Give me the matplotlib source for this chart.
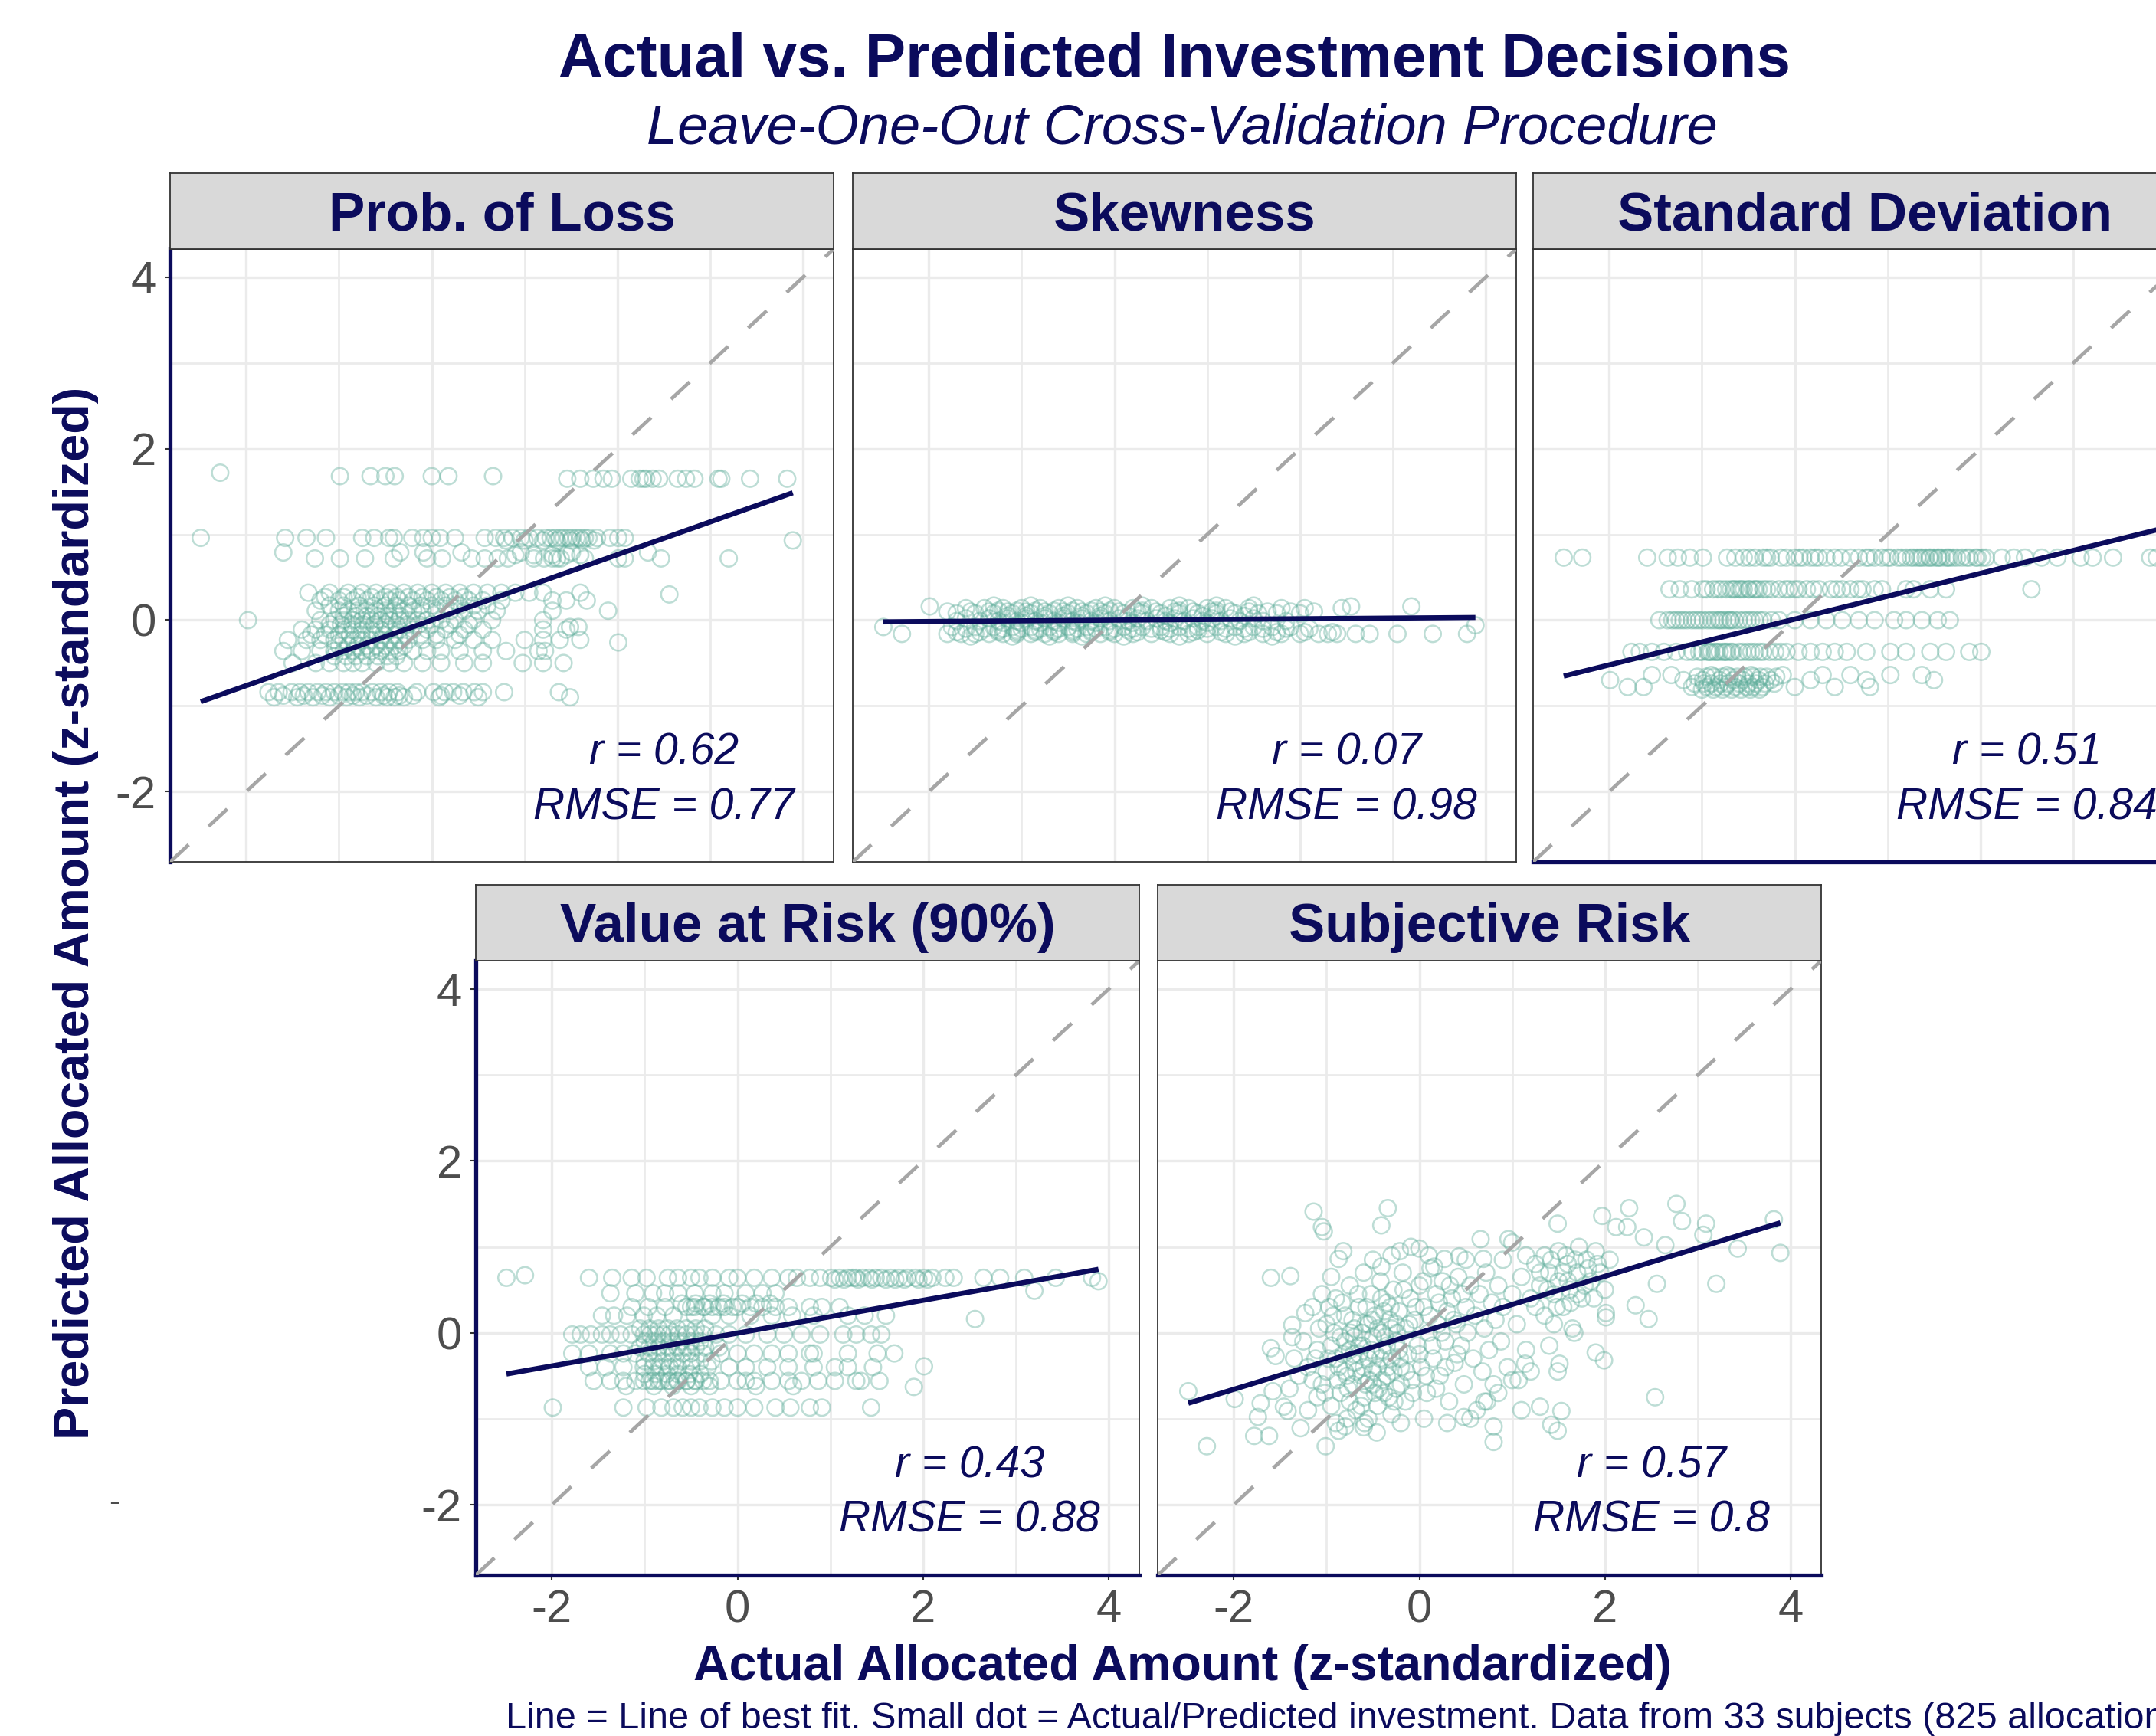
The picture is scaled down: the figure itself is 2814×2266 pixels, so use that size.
import numpy as np
import matplotlib
matplotlib.use("Agg")
import matplotlib.pyplot as plt

plt.rcParams['font.family'] = ['Liberation Sans', 'DejaVu Sans']
plt.rcParams['axes.unicode_minus'] = False

# ─── Data ─────────────────────────────────────────────────────────────────────

panel_titles = ["Prob. of Loss", "Skewness", "Standard Deviation",
                "Value at Risk (90%)", "Subjective Risk"]
r_values = ["0.62", "0.07", "0.51", "0.43", "0.57"]
rmse_values = ["0.77", "0.98", "0.84", "0.88", "0.8"]
fit_slope = [0.382, 0.008, 0.267, 0.191, 0.329]
fit_intercept = [0.0, 0.0, 0.012, -0.004, 0.0]

# banded panels: (predicted value, [actual values])
loss_rows = [
    (1.72, [-2.28]),
    (1.68, [-0.99, -0.66, -0.50, -0.40, 0.00, 0.18, 0.66]),
    (1.65, [1.46, 1.60, 1.74, 1.85, 1.94, 2.15, 2.24, 2.28, 2.31, 2.38, 2.45,
            2.65, 2.74, 2.83, 3.09, 3.12, 3.43, 3.83]),
    (0.96, [-2.49, -1.58, -1.35, -1.14, -0.75, -0.62, -0.46, -0.41, -0.21, -0.09,
            0.00, 0.09, 0.25, 0.57, 0.69, 0.78, 0.87, 0.96, 1.05, 1.14, 1.23, 1.28,
            1.33, 1.38, 1.42, 1.47, 1.51, 1.56, 1.60, 1.65, 1.69, 1.78, 1.92, 2.01, 2.08]),
    (0.93, [0.80, 1.00, 1.20, 1.35, 1.50, 1.62, 1.75, 3.89]),
    (0.79, [-1.60, -0.34, -0.09, 0.32, 0.96, 1.51, 2.33]),
    (0.76, [0.90, 1.10, 1.30, 1.45, 1.60]),
    (0.72, [-1.26, -0.99, -0.72, -0.41, -0.05, 0.11, 0.43, 0.57, 0.71, 0.82, 1.10,
            1.21, 1.30, 1.35, 1.39, 1.65, 2.01, 2.08, 2.47, 3.20]),
    (0.30, [2.56]),
    (0.32, [-1.33, -1.10, -0.90, -0.75, -0.60, -0.45, -0.30, -0.15, 0.00, 0.15, 0.30,
            0.45, 0.60, 0.75, 0.90, 1.05, 1.20, 1.60]),
    (0.27, [-1.15, -0.95, -0.80, -0.65, -0.50, -0.38, -0.25, -0.10, 0.05, 0.20, 0.35]),
    (0.23, [-1.20, -1.00, -0.85, -0.70, -0.55, -0.45, -0.35, -0.20, -0.05, 0.10, 0.25,
            0.40, 0.55, 0.75, 1.30, 1.45, 1.67]),
    (0.17, [-1.10, -0.95, -0.78, -0.62, -0.50, -0.38, -0.25, -0.12, 0.00, 0.15, 0.30,
            0.45, 0.60]),
    (0.11, [-1.25, -1.00, -0.90, -0.80, -0.70, -0.60, -0.50, -0.40, -0.30, -0.20,
            -0.10, 0.05, 0.20, 0.35, 0.50, 0.70, 1.30, 1.90]),
    (0.05, [-0.95, -0.82, -0.70, -0.58, -0.46, -0.34]),
    (0.00, [-1.98, -1.20, -1.05, -0.95, -0.85, -0.75, -0.65, -0.55, -0.45, -0.35,
            -0.25, -0.15, -0.05, 0.10, 0.25, 0.45, 0.65, 1.20]),
    (-0.05, [-1.10, -0.98, -0.86, -0.74, -0.62, -0.50, -0.38, -0.26, -0.14, 0.00,
             0.20, 0.40]),
    (-0.08, [1.49, 1.58]),
    (-0.11, [-1.40, -1.25, -1.10, -0.95, -0.85, -0.75, -0.65, -0.55, -0.45, -0.35,
             -0.20, -0.05, 0.15, 0.35, 0.55, 1.20, 1.45]),
    (-0.17, [-1.30, -1.15, -1.00, -0.88, -0.76, -0.64, -0.52, -0.40, -0.28, -0.12,
             0.05, 0.30]),
    (-0.23, [-1.55, -1.35, -1.20, -1.05, -0.95, -0.85, -0.75, -0.65, -0.55, -0.45,
             -0.35, -0.25, -0.10, 0.05, 0.25, 0.45, 0.65, 1.00, 1.20, 1.38, 1.60]),
    (-0.26, [2.01]),
    (-0.30, [-1.00, -0.90, -0.80, -0.70, -0.60, -0.50, -0.40, -0.30]),
    (-0.36, [-1.60, -1.40, -1.20, -1.05, -0.95, -0.85, -0.75, -0.65, -0.55, -0.45,
             -0.35, -0.20, -0.05, 0.10, 0.30, 0.55, 0.80, 1.15, 1.22]),
    (-0.42, [-1.05, -0.92, -0.82, -0.70, -0.58, -0.48, -0.38]),
    (-0.50, [-1.50, -1.25, -1.10, -0.95, -0.85, -0.75, -0.60, -0.45, -0.30, -0.10,
             0.10, 0.35, 0.55, 0.98, 1.20, 1.42]),
    (-0.84, [-1.76, -1.65, -1.51, -1.42, -1.33, -1.23, -1.14, -1.05, -0.96, -0.89,
             -0.82, -0.75, -0.64, -0.55, -0.46, -0.37, -0.16, 0.02, 0.14, 0.23, 0.34,
             0.46, 0.55, 0.78, 1.37]),
    (-0.88, [-1.60, -1.38, -1.18, -1.00, -0.85, -0.70, -0.52, -0.35, -0.20, 0.10, 0.30]),
    (-0.90, [-1.70, -1.45, -1.28, -1.10, -0.92, -0.78, -0.60, -0.48, -0.40, -0.30,
             0.08, 0.50, 1.49]),
]

skew_rows = [
    (0.17, [-1.30, -0.90, -0.50, -0.10, 0.30, 0.70, 1.10, 1.50]),
    (0.16, [-1.99, 2.55, 3.20]),
    (0.14, [-1.60, -1.40, -1.20, -1.00, -0.80, -0.60, -0.40, -0.20, 0.00, 0.20, 0.40,
            0.60, 0.80, 1.00, 1.20, 1.45, 1.80, 2.05, 2.45]),
    (0.11, [-1.25, -1.05, -0.85, -0.65, -0.45, -0.25, -0.05, 0.30, 0.70, 1.10]),
    (0.10, [-1.80, -1.55, -1.35, -1.15, -0.95, -0.75, -0.55, -0.35, -0.15, 0.05, 0.25,
            0.45, 0.65, 0.85, 1.05, 1.25, 1.45, 1.65, 1.90, 2.15]),
    (0.08, [-1.70, -1.50, -1.30, -1.10, -0.90, -0.70, -0.50, -0.30, -0.10, 0.10, 0.30,
            0.50, 0.70, 0.90, 1.10, 1.30, 1.55, 1.75, 2.00]),
    (0.05, [-1.15, -0.95, -0.75, -0.55, -0.35, -0.15, 0.15, 0.55, 0.95, 1.40]),
    (0.02, [-1.60, -1.35, -1.15, -0.95, -0.75, -0.55, -0.35, -0.15, 0.05, 0.25, 0.45,
            0.65, 0.85, 1.05, 1.25, 1.50]),
    (-0.01, [-1.70, -1.45, -1.25, -1.05, -0.85, -0.65, -0.45, -0.25, -0.05, 0.15,
             0.35, 0.55, 0.75, 0.95, 1.15, 1.35, 1.60, 1.85]),
    (-0.03, [-1.20, -1.00, -0.80, -0.60, -0.40, -0.20, 0.20, 0.60, 1.00]),
    (-0.06, [3.89]),
    (-0.08, [-2.49, -1.75, -1.50, -1.30, -1.10, -0.90, -0.70, -0.50, -0.30, -0.10,
             0.10, 0.30, 0.50, 0.70, 0.90, 1.10, 1.30, 1.50, 1.70, 1.90]),
    (-0.10, [-1.60, -1.40, -1.20, -1.00, -0.80, -0.60, -0.40, -0.20, 0.00, 0.20, 0.40,
             0.60, 0.80, 1.00, 1.20, 1.40, 1.60, 1.85, 2.10]),
    (-0.12, [-1.25, -1.05, -0.85, -0.65, -0.45, -0.25, -0.05, 0.15, 0.50, 0.90]),
    (-0.14, [-1.70, -1.45, -1.25, -1.05, -0.85, -0.65, -0.45, -0.25, -0.05, 0.25, 0.55,
             0.85, 1.15, 1.45, 1.75, 2.05, 2.35]),
    (-0.16, [-2.29, -1.80, -1.65, -1.50, -1.35, -1.20, -1.05, -0.90, -0.75, -0.60,
             -0.45, -0.30, -0.15, 0.00, 0.20, 0.40, 0.60, 0.80, 1.00, 1.20, 1.40, 1.60,
             1.80, 2.00, 2.20, 2.30, 2.40, 2.60, 2.75, 3.05, 3.43, 3.80]),
    (-0.19, [-1.55, -1.10, -0.70, -0.35, 0.10, 0.70, 1.30, 1.70]),
]

sd_rows = [
    (0.73, [-2.49, -2.29, -1.59, -1.37, -1.26, -1.13, -0.99, -0.73, -0.64, -0.49,
            -0.43, -0.34, -0.26, -0.09, 0.00, 0.09, 0.17, 0.26, 0.34, 0.43, 0.60, 0.69,
            0.77, 0.86, 0.94, 1.03, 1.11, 1.20, 1.28, 1.32, 1.37, 1.41, 1.46, 1.50,
            1.54, 1.58, 1.63, 1.67, 1.71, 1.80, 1.88, 1.97, 2.06, 2.23, 2.36, 2.48,
            2.66, 2.83, 3.08, 3.21, 3.43, 3.83, 3.90]),
    (0.73, [1.00, 1.15, 1.25, 1.35, 1.45, 1.55, 1.65, 1.75, 1.85, 1.95, 2.02, -0.55,
            -0.30, -0.15, 0.05, 0.22, 0.50, 0.80]),
    (0.36, [-1.35, -1.24, -1.11, -0.99, -0.88, -0.79, -0.69, -0.64, -0.60, -0.55,
            -0.49, -0.44, -0.39, -0.30, -0.17, -0.06, 0.04, 0.13, 0.26, 0.39, 0.51,
            0.60, 0.73, 0.86, 0.94, 1.20, 1.28, 1.46, 1.63, 2.55]),
    (0.36, [-0.95, -0.83, -0.74, -0.66, -0.58, -0.50, -0.42, -0.34, -0.25, -0.10,
            0.00, 0.20, 0.45, 0.68]),
    (0.00, [-1.46, -1.37, -1.28, -1.20, -1.11, -1.03, -0.94, -0.86, -0.82, -0.77,
            -0.73, -0.69, -0.60, -0.51, -0.43, -0.34, -0.17, 0.00, 0.17, 0.34, 0.51,
            0.69, 0.86, 1.07, 1.20, 1.37, 1.54, 1.67]),
    (0.00, [-1.32, -1.24, -1.16, -1.07, -0.99, -0.90, -0.80, -0.70, -0.65, -0.55,
            -0.47, -0.38, -0.25]),
    (-0.37, [-1.76, -1.67, -1.54, -1.41, -1.28, -1.16, -1.03, -0.94, -0.90, -0.86,
             -0.81, -0.77, -0.73, -0.69, -0.60, -0.51, -0.43, -0.34, -0.21, -0.09,
             0.04, 0.17, 0.30, 0.43, 0.56, 0.77, 1.03, 1.20, 1.46, 1.63, 1.88, 2.01]),
    (-0.37, [-1.10, -1.00, -0.92, -0.84, -0.75, -0.67, -0.56, -0.47, -0.38, -0.27,
             -0.15]),
    (-0.64, [-1.54, -1.33, -0.90, -0.73, -0.47, -0.13, 0.30, 0.60, 1.03, 1.37]),
    (-0.66, [-1.05, -0.95, -0.87, -0.78, -0.70, -0.62, -0.54, -0.45, -0.37, -0.30,
             -0.20]),
    (-0.70, [-1.99, -1.20, -0.99, -0.81, -0.66, -0.56, -0.39, -0.26, 0.17, 0.77, 1.50]),
    (-0.74, [-1.08, -0.98, -0.90, -0.80, -0.72, -0.60, -0.50, -0.42, -0.32, -0.22]),
    (-0.78, [-1.80, -1.63, -1.11, -0.95, -0.85, -0.75, -0.64, -0.52, -0.45, -0.35,
             0.00, 0.43, 0.81]),
    (-0.81, [-1.00, -0.88, -0.78, -0.68, -0.58, -0.48, -0.38]),
]

var_rows = [
    (0.67, [-2.29]),
    (0.64, [-2.49, -1.60, -1.35, -1.14, -0.98, -0.75, -0.64, -0.50, -0.41, -0.27,
            -0.09, 0.00, 0.18, 0.37, 0.55, 0.64, 0.78, 0.89, 1.01, 1.10, 1.19, 1.24,
            1.28, 1.35, 1.42, 1.49, 1.55, 1.65, 1.74, 1.83, 1.92, 2.01, 2.10, 2.24,
            2.33, 2.65, 2.83, 3.09, 3.43, 3.82]),
    (0.62, [1.05, 1.15, 1.30, 1.45, 1.60, 1.70, 1.80, 1.95, 2.05]),
    (0.60, [3.89]),
    (0.49, [3.20]),
    (0.46, [-1.37, -1.10, -0.91, -0.78, -0.64, -0.46, -0.27, -0.14, 0.09, 0.27, 0.41]),
    (0.34, [-0.60, -0.45, -0.30, -0.15, 0.05, 0.20, 0.35]),
    (0.30, [-1.14, -0.96, -0.78, -0.55, -0.50, -0.46, -0.37, -0.35, -0.27, -0.20,
            -0.14, -0.05, 0.00, 0.14, 0.27, 0.41, 0.55, 0.78, 0.91, 1.10]),
    (0.20, [-1.46, -1.33, -1.19, -1.01, -0.87, -0.69, -0.46, -0.27, -0.09, 0.14,
            0.37, 0.59, 0.82, 1.19, 1.37, 1.60]),
    (0.16, [2.56]),
    (0.05, [-1.05, -0.95, -0.85, -0.75, -0.65, -0.55, -0.45, -0.35]),
    (-0.02, [-1.78, -1.69, -1.58, -1.46, -1.37, -1.26, -1.14, -1.01, -0.94, -0.87,
             -0.80, -0.73, -0.64, -0.55, -0.46, -0.37, -0.23, -0.09, 0.09, 0.32, 0.50,
             0.69, 0.89, 1.14, 1.28, 1.44, 1.55]),
    (-0.10, [-1.00, -0.90, -0.80, -0.70, -0.60, -0.50, -0.40]),
    (-0.17, [-1.05, -0.95, -0.85, -0.75, -0.65, -0.55, -0.45, -0.35, -0.20]),
    (-0.24, [-1.78, -1.60, -1.37, -1.23, -1.10, -0.96, -0.87, -0.78, -0.69, -0.59,
             -0.50, -0.37, -0.18, 0.00, 0.18, 0.37, 0.55, 0.78, 0.82, 1.19, 1.51, 1.69]),
    (-0.33, [-1.00, -0.90, -0.80, -0.70, -0.60, -0.50, -0.40, -0.28]),
    (-0.39, [2.01]),
    (-0.40, [-1.60, -1.42, -1.23, -1.01, -0.91, -0.82, -0.73, -0.64, -0.50, -0.32,
             -0.09, 0.09, 0.32, 0.55, 0.82, 1.05, 1.19, 1.46]),
    (-0.48, [-1.00, -0.88, -0.76, -0.64, -0.52, -0.40]),
    (-0.56, [-1.55, -1.37, -1.23, -1.10, -1.01, -0.91, -0.82, -0.73, -0.64, -0.55,
             -0.46, -0.37, -0.18, 0.00, 0.09, 0.18, 0.37, 0.55, 0.69, 0.87, 1.05,
             1.28, 1.33, 1.53]),
    (-0.56, [-0.95, -0.85, -0.75, -0.65, -0.55, -0.45, -0.30]),
    (-0.62, [-1.20, -0.90, -0.70, -0.50, -0.30, 0.20, 0.60]),
    (-0.63, [1.90]),
    (-0.87, [-1.99, -1.23, -0.98, -0.82, -0.69, -0.59, -0.50, -0.41, -0.27, -0.14,
             0.00, 0.18, 0.41, 0.57, 0.78, 0.91, 1.44]),
]

# continuous panel: (actual, predicted)
subj_points = [
    (-2.49, -0.68), (-2.29, -1.32), (-1.99, -0.77), (-1.78, -1.20), (-1.74, -0.98),
    (-1.71, -0.82), (-1.62, -1.20), (-1.60, 0.64), (-1.39, 0.66), (-1.60, -0.18),
    (-1.55, -0.27), (-1.58, -0.68), (-1.46, -0.86), (-1.42, -0.91), (-1.37, 0.09),
    (-1.37, -0.05), (-1.28, -1.11), (-1.23, 0.23), (-1.14, 1.41), (-1.05, 1.23),
    (-1.03, 1.18), (-1.01, -1.32), (-0.87, 0.86), (-0.82, 0.95), (-0.80, -1.09),
    (-0.87, -1.14), (-0.59, -1.05), (-0.46, -1.16), (-0.41, 1.25), (-0.34, 1.45),
    (-0.41, 0.77), (-0.21, 0.95), (-0.09, 1.00), (0.00, 0.98), (0.16, 0.77),
    (0.27, 0.86), (0.43, 0.89), (0.48, -0.98), (0.66, 1.09), (0.69, 0.86),
    (0.80, -1.09), (0.80, -1.27), (0.73, -0.80), (0.96, 1.09), (1.07, -0.55),
    (1.14, -0.36), (1.30, -0.86), (1.42, -1.07), (1.49, -1.14), (1.53, -0.91),
    (1.49, -0.45), (1.51, -0.36), (1.67, 0.00), (1.49, 1.27), (1.90, -0.23),
    (1.99, -0.32), (1.97, 1.36), (2.01, 0.23), (2.01, 0.18), (2.12, 1.23),
    (2.24, 1.23), (2.26, 1.45), (2.33, 0.32), (2.42, 1.11), (2.47, 0.16),
    (2.54, -0.75), (2.56, 0.57), (2.65, 1.02), (2.77, 1.50), (2.83, 1.30),
    (3.09, 1.27), (3.06, 1.14), (3.20, 0.57), (3.43, 0.98), (3.82, 1.32),
    (3.89, 0.93),
    (-1.20, -0.40), (-1.10, -0.20), (-1.05, -0.60), (-1.00, 0.10), (-0.95, -0.85),
    (-0.90, -0.30), (-0.90, 0.40), (-0.85, -0.05), (-0.85, -0.70), (-0.80, 0.20),
    (-0.80, -0.45), (-0.78, -1.00), (-0.75, 0.55), (-0.75, -0.20), (-0.72, -0.60),
    (-0.70, 0.05), (-0.70, -0.35), (-0.68, -0.90), (-0.65, 0.30), (-0.65, -0.15),
    (-0.62, -0.50), (-0.60, 0.70), (-0.60, -0.75), (-0.58, 0.10), (-0.55, -0.30),
    (-0.55, -1.00), (-0.52, 0.45), (-0.50, -0.05), (-0.50, -0.60), (-0.48, 0.20),
    (-0.45, -0.40), (-0.45, -0.85), (-0.42, 0.60), (-0.40, 0.00), (-0.40, -0.20),
    (-0.38, -0.70), (-0.35, 0.35), (-0.35, -0.50), (-0.32, 0.15), (-0.30, -0.30),
    (-0.30, -0.95), (-0.28, 0.50), (-0.25, -0.10), (-0.25, -0.65), (-0.22, 0.25),
    (-0.20, -0.40), (-0.18, 0.70), (-0.15, 0.05), (-0.15, -0.80), (-0.12, -0.25),
    (-0.10, 0.40), (-0.08, -0.55), (-0.05, 0.15), (-0.02, -0.15), (0.00, 0.55),
    (0.02, -0.40), (0.05, 0.30), (0.08, -0.70), (0.10, 0.00), (0.12, 0.75),
    (0.15, -0.30), (0.18, 0.45), (0.20, 0.10), (0.22, -0.50), (0.25, 0.60),
    (0.28, -0.10), (0.30, 0.25), (0.32, -0.80), (0.35, 0.40), (0.38, -0.35),
    (0.40, 0.10), (0.42, 0.65), (0.45, -0.15), (0.48, -0.60), (0.50, 0.30),
    (0.52, 0.00), (0.55, 0.55), (0.58, -0.30), (0.60, 0.20), (0.62, -0.90),
    (0.65, 0.45), (0.68, -0.45), (0.70, 0.05), (0.72, 0.70), (0.75, -0.20),
    (0.78, 0.35), (0.80, -0.60), (0.82, 0.15), (0.85, 0.55), (0.88, -0.10),
    (0.90, 0.30), (0.95, -0.40), (1.00, 0.45), (1.05, 0.10), (1.10, 0.65),
    (1.15, -0.20), (1.20, 0.40), (1.25, 0.80), (1.30, 0.55), (1.35, 0.90),
    (1.35, 0.20), (1.40, 0.70), (1.45, 0.45), (1.50, 0.95), (1.50, 0.60),
    (1.55, 0.30), (1.60, 0.80), (1.62, 0.50), (1.65, 0.05), (1.70, 0.70),
    (1.72, 1.00), (1.75, 0.40), (1.80, 0.85), (1.85, 0.60), (1.90, 0.95),
    (1.95, 0.70), (2.00, 0.50), (2.05, 0.85), (1.15, 0.90), (1.25, 0.30),
    (1.40, -0.15),
    (-1.00, -0.45), (-0.95, -0.15), (-0.92, 0.00), (-0.88, -0.55), (-0.82, -0.25),
    (-0.80, -0.10), (-0.78, -0.50), (-0.75, -0.80), (-0.72, 0.15), (-0.70, -0.05),
    (-0.68, -0.45), (-0.65, -0.25), (-0.62, 0.00), (-0.60, -0.40), (-0.58, -0.60),
    (-0.55, 0.10), (-0.52, -0.20), (-0.50, -0.45), (-0.48, -0.70), (-0.45, 0.05),
    (-0.42, -0.30), (-0.40, -0.55), (-0.38, 0.25), (-0.35, -0.15), (-0.33, -0.75),
    (-0.30, 0.05), (-0.28, -0.45), (-0.25, 0.10), (-0.22, -0.20), (-0.20, -0.60),
    (-1.30, -0.50), (-1.25, -0.10), (-1.15, 0.30), (-1.10, -0.75), (-1.35, -0.30),
    (-1.40, -0.65), (-1.20, -0.90), (-1.05, 0.45), (-0.95, 0.65), (-0.90, -1.05),
    (-0.60, -1.10), (-0.20, -1.05), (0.05, -1.00), (0.30, -1.05), (-0.50, 0.85),
    (-0.30, 0.90), (0.10, 0.90), (0.50, 0.85), (0.90, 0.85), (1.00, 1.05),
    (0.70, -0.80), (0.85, -0.70), (1.00, -0.55), (1.20, -0.45), (1.10, -0.90),
    (0.55, -1.00),
    (-0.98, -0.30), (-0.93, 0.20), (-0.87, -0.40), (-0.83, 0.35), (-0.77, -0.65),
    (-0.74, 0.00), (-0.71, -0.25), (-0.66, 0.45), (-0.63, -0.85), (-0.61, -0.15),
    (-0.57, 0.30), (-0.54, -0.55), (-0.51, 0.15), (-0.47, -0.25), (-0.44, -0.65),
    (-0.41, 0.40), (-0.37, -0.05), (-0.34, -0.40), (-0.31, 0.30), (-0.27, -0.80),
    (-0.24, 0.00), (-0.21, -0.30), (-0.17, 0.50), (-0.14, -0.45), (-0.11, 0.10),
    (-0.07, -0.70), (-0.04, 0.30), (0.00, -0.25), (0.04, 0.60), (0.07, -0.50),
    (0.11, 0.20), (0.14, -0.15), (0.18, -0.65), (0.21, 0.35), (0.24, 0.00),
    (0.28, -0.40), (0.33, 0.55), (0.37, 0.15), (0.41, -0.25), (0.46, 0.45),
    (-1.15, -0.55), (-1.08, 0.05), (-1.02, -0.70), (-0.97, 0.30), (-1.12, -0.30),
    (1.30, 0.70), (1.38, 0.50), (1.42, 0.85), (1.48, 0.30), (1.55, 0.70),
    (1.58, 0.90), (1.63, 0.35), (1.68, 0.85), (1.78, 0.55), (1.82, 0.75),
    (1.88, 0.40), (1.92, 0.80), (1.45, 0.10), (1.60, 0.60), (1.70, 0.45),
]

major_ticks = [-2, 0, 2, 4]
minor_ticks = [-3, -1, 1, 3]
axis_lim = (-2.82, 4.33)

# ─── Styling ──────────────────────────────────────────────────────────────────

NAVY = "#0b0b5c"
TEAL = "#5aab98"
GRID = "#EBEBEB"
BORDER = "#333333"

W, H = 2814, 2266
fig = plt.figure(figsize=(W / 100, H / 100), dpi=100)


def px_axes(left, top, right, bottom):
    return fig.add_axes([left / W, 1 - bottom / H, (right - left) / W, (bottom - top) / H])


def rows_to_xy(rows):
    xs, ys = [], []
    for yv, xvals in rows:
        xs.extend(xvals)
        ys.extend([yv] * len(xvals))
    return np.array(xs), np.array(ys)


panel_data = [rows_to_xy(loss_rows), rows_to_xy(skew_rows), rows_to_xy(sd_rows),
              rows_to_xy(var_rows),
              (np.array([p[0] for p in subj_points]), np.array([p[1] for p in subj_points]))]

# panel boxes in pixels: left, top, right, bottom
panel_boxes = [(222, 325, 1088, 1125), (1113, 325, 1979, 1125), (2001, 325, 2867, 1125),
               (621, 1254, 1487, 2056), (1511, 1254, 2377, 2056)]
STRIP_H = 99
left_axis = [True, False, False, True, False]
bottom_axis = [False, False, True, True, True]
x_labels = [False, False, False, True, True]

for i, (x, y) in enumerate(panel_data):
    l, t, r, b = panel_boxes[i]
    ax = px_axes(l, t, r, b)
    ax.set_xticks(major_ticks)
    ax.set_yticks(major_ticks)
    ax.set_xticks(minor_ticks, minor=True)
    ax.set_yticks(minor_ticks, minor=True)
    ax.grid(which="major", color=GRID, linewidth=2.4)
    ax.grid(which="minor", color=GRID, linewidth=2.0)
    ax.set_axisbelow(True)
    ax.tick_params(which="minor", length=0)
    ax.tick_params(which="major", length=5, width=1.5, color=BORDER,
                   labelsize=43, labelcolor="#4D4D4D", pad=8)
    ax.tick_params(axis="y", left=left_axis[i], labelleft=left_axis[i])
    ax.tick_params(axis="x", bottom=x_labels[i], labelbottom=x_labels[i])
    for sp in ax.spines.values():
        sp.set_color(BORDER)
        sp.set_linewidth(1.3)
    if left_axis[i]:
        ax.spines["left"].set_color(NAVY)
        ax.spines["left"].set_linewidth(3.8)
    if bottom_axis[i]:
        ax.spines["bottom"].set_color(NAVY)
        ax.spines["bottom"].set_linewidth(3.8)

    ax.scatter(x, y, s=240, facecolors="none", edgecolors=TEAL,
               linewidths=1.8, alpha=0.4, zorder=2)
    ax.axline((0, 0), slope=1, color="#A6A6A6", linewidth=3.4,
              linestyle=(0, (7, 7.5)), zorder=3)
    fx = np.array([x.min(), x.max()])
    ax.plot(fx, fit_intercept[i] + fit_slope[i] * fx, color=NAVY,
            linewidth=4.8, solid_capstyle="butt", zorder=4)

    ax.text(2.5, -1.68, f"r = {r_values[i]}", ha="center", va="baseline",
            style="italic", color=NAVY, fontsize=41, zorder=5)
    ax.text(2.5, -2.32, f"RMSE = {rmse_values[i]}", ha="center", va="baseline",
            style="italic", color=NAVY, fontsize=41, zorder=5)

    # limits last: set_xticks would otherwise widen the view to the -3 minor tick
    ax.set_xlim(axis_lim)
    ax.set_ylim(axis_lim)

    # facet strip
    sax = px_axes(l, t - STRIP_H, r, t)
    sax.set_facecolor("#D9D9D9")
    sax.set_xticks([])
    sax.set_yticks([])
    for sp in sax.spines.values():
        sp.set_color(BORDER)
        sp.set_linewidth(1.3)
    sax.text(0.5, 0.43, panel_titles[i], transform=sax.transAxes, ha="center",
             va="center", fontsize=51, fontweight="bold", color=NAVY)

# ─── Titles and labels ────────────────────────────────────────────────────────

fig.text(1533 / W, 1 - 100 / H, "Actual vs. Predicted Investment Decisions",
         ha="center", va="baseline", fontsize=57.5, fontweight="bold", color=NAVY)
fig.text(1543 / W, 1 - 188 / H, "Leave-One-Out Cross-Validation Procedure",
         ha="center", va="baseline", fontsize=52, style="italic", color=NAVY)
fig.text(1543 / W, 1 - 2193 / H, "Actual Allocated Amount (z-standardized)",
         ha="center", va="baseline", fontsize=46.5, fontweight="bold", color=NAVY)
fig.text(99 / W, 1 - 1192 / H, "Predicted Allocated Amount (z-standardized)",
         ha="center", va="center", rotation=90, fontsize=46.5, fontweight="bold",
         color=NAVY)
fig.text(660 / W, 1 - 2256 / H,
         "Line = Line of best fit. Small dot = Actual/Predicted investment. "
         "Data from 33 subjects (825 allocations).",
         ha="left", va="baseline", fontsize=35, color=NAVY)
fig.text(149 / W, 1 - 1962 / H, "-", ha="center", va="center", fontsize=30,
         color="#4D4D4D")

fig.savefig("out.png", dpi=100)
